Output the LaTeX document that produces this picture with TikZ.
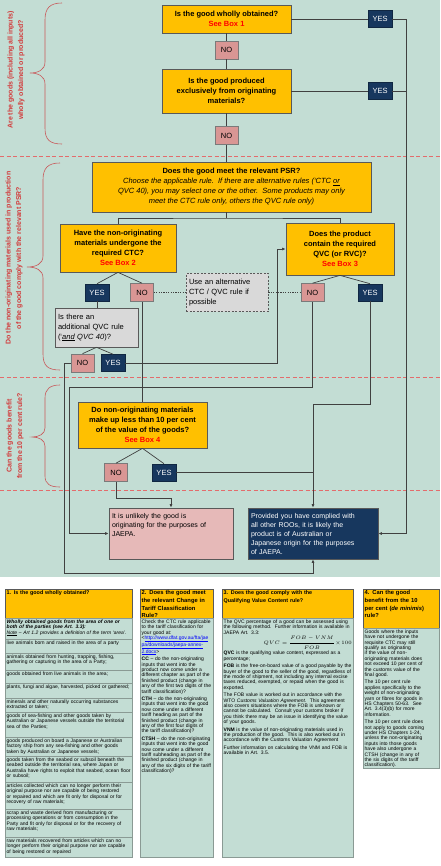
\documentclass[tikz,border=0pt]{standalone}
\usepackage{fontspec}
\setmainfont{Liberation Sans}
\usepackage{amsmath}
\usetikzlibrary{positioning,arrows.meta}
\definecolor{chartbg}{HTML}{C3DDD4}
\definecolor{qorange}{HTML}{FFC000}
\definecolor{navy}{HTML}{17375E}
\definecolor{nopink}{HTML}{D99694}
\definecolor{respink}{HTML}{E6B9B8}
\definecolor{altgrey}{HTML}{D9D9D9}
\definecolor{boxline}{HTML}{595959}
\definecolor{linkgrey}{HTML}{404040}
\definecolor{seered}{HTML}{FF0000}
\definecolor{sidered}{HTML}{D23B3B}
\definecolor{bracered}{HTML}{C9585A}
\definecolor{sepred}{HTML}{E36C6C}
\definecolor{urlblue}{HTML}{0000FF}
\definecolor{cellline}{HTML}{8A9A94}
\hyphenpenalty=10000

\begin{document}
\begin{tikzpicture}[x=1pt, y=-1pt,
	every node/.style={font=\fontsize{7.5}{10}\selectfont},
	qbox/.style={draw=boxline, fill=qorange, line width=0.7pt, align=center, inner sep=1pt, font=\fontsize{7.5}{10}\selectfont\bfseries},
	yesbox/.style={draw=navy!70!black, fill=navy, text=white, line width=0.6pt, minimum width=24pt, minimum height=17pt, inner sep=0pt},
	nobox/.style={draw=boxline!80, fill=nopink, line width=0.6pt, minimum width=23pt, minimum height=18pt, inner sep=0pt},
	greybox/.style={draw=boxline, fill=altgrey, line width=0.6pt, align=left, inner sep=3pt},
	result/.style={draw=boxline, line width=0.7pt, align=left, inner sep=3pt, minimum height=51pt, font=\fontsize{7}{9}\selectfont},
	sidelabel/.style={rotate=90, align=center, text=sidered, inner sep=0pt, font=\fontsize{7}{10.5}\selectfont\bfseries},
	bracel/.style={draw=bracered, line width=0.6pt},
	sepline/.style={draw=sepred, line width=0.8pt, dash pattern=on 4pt off 2.5pt},
	link/.style={draw=linkgrey, line width=0.7pt},
	arr/.style={link, -{Latex[length=3.5pt,width=3pt]}},
	thead/.style={fill=qorange, draw=boxline, line width=0.4pt},
	tcell/.style={fill=chartbg, draw=cellline, line width=0.4pt},
	theadtext/.style={anchor=north west, inner sep=1.5pt, text width=#1, align=left, font=\fontsize{5.8}{7.6}\selectfont\bfseries},
	tcelltext/.style={anchor=north west, inner sep=1.5pt, text width=#1, align=left, font=\fontsize{5}{5.4}\selectfont}
	]
	\useasboundingbox (0,0) rectangle (440,866);
	\fill [chartbg] (0,0) rectangle (440,577);

	\draw [sepline] (0,156) -- (440,156);
	\draw [sepline] (0,377) -- (440,377);
	\draw [sepline] (0,490) -- (440,490);

	\node [sidelabel] (lab1) at (16,70) {Are the goods (including all inputs)\\wholly obtained or produced?};
	\node [sidelabel] (lab2) at (14,258) {Do the non-originating materials used in production\\of the good comply with the relevant PSR?};
	\node [sidelabel] (lab3) at (15,436) {Can the goods benefit\\from the 10 per cent rule?};
	\draw [bracel] (62,3) .. controls (50,3) and (45,8) .. (45,20) -- (45,62) .. controls (45,70) and (38,73) .. (30,73) .. controls (38,73) and (45,76) .. (45,84) -- (45,128) .. controls (45,140) and (50,144) .. (62,144);
	\draw [bracel] (60,163) .. controls (48,163) and (43,168) .. (43,180) -- (43,256) .. controls (43,264) and (36,267) .. (27,267) .. controls (36,267) and (43,270) .. (43,278) -- (43,354) .. controls (43,366) and (48,370) .. (60,370);
	\draw [bracel] (60,385) .. controls (50,385) and (45,389) .. (45,398) -- (45,428) .. controls (45,434) and (39,437) .. (32,437) .. controls (39,437) and (45,440) .. (45,446) -- (45,476) .. controls (45,484) and (50,487) .. (60,487);

	\node [qbox, minimum width=129pt, minimum height=28pt] (wo) at (226.5,19) {Is the good wholly obtained?\\\textcolor{seered}{See Box 1}};
	\node [nobox] (no1) at (226.5,50) {NO};
	\node [qbox, minimum width=129pt, minimum height=44pt] (ex) at (226.5,91) {Is the good produced\\exclusively from originating\\materials?};
	\node [nobox] (no2) at (226.5,135.5) {NO};
	\node [yesbox] (yes1) at (380,19) {YES};
	\node [yesbox] (yes2) at (380,91) {YES};
	\node [qbox, minimum width=279pt, minimum height=50pt] (psr) at (231.5,187) {Does the good meet the relevant PSR?\\{\mdseries\itshape Choose the applicable rule.\ \ If there are alternative rules (‘CTC \underline{or}}\\{\mdseries\itshape QVC 40), you may select one or the other.\ \ Some products may only}\\{\mdseries\itshape meet the CTC rule only, others the QVC rule only)}};
	\node [qbox, minimum width=116pt, minimum height=48pt] (ctc) at (118,248) {Have the non-originating\\materials undergone the\\required CTC?\\\textcolor{seered}{See Box 2}};
	\node [qbox, minimum width=108pt, minimum height=52pt] (qvc) at (340,249) {Does the product\\contain the required\\QVC (or RVC)?\\\textcolor{seered}{See Box 3}};
	\node [yesbox] (ctcyes) at (97,292.5) {YES};
	\node [nobox] (ctcno) at (142,292.5) {NO};
	\node [nobox] (qvcno) at (312.5,292.5) {NO};
	\node [yesbox] (qvcyes) at (370,292.5) {YES};
	\node [greybox, dash pattern=on 2pt off 1.5pt, minimum width=82pt, minimum height=38pt, text width=76pt] (alt) at (227,292.5) {Use an alternative\\CTC / QVC rule if\\possible};
	\node [greybox, minimum width=83pt, minimum height=39pt, text width=77pt] (addq) at (96.5,327.5) {Is there an\\additional QVC rule\\(‘\underline{\itshape and} {\itshape QVC 40})?};
	\node [nobox] (addqno) at (82.5,363) {NO};
	\node [yesbox] (addqyes) at (113,363) {YES};
	\node [qbox, minimum width=129pt, minimum height=46pt] (dm) at (142.5,425) {Do non-originating materials\\make up less than 10 per cent\\of the value of the goods?\\\textcolor{seered}{See Box 4}};
	\node [nobox] (dmno) at (116,472.5) {NO};
	\node [yesbox] (dmyes) at (164,472.5) {YES};
	\node [result, fill=respink, minimum width=124pt, text width=118pt] (notorig) at (171,533.5) {It is unlikely the good is\\originating for the purposes of\\JAEPA.\\\mbox{}\\\mbox{}};
	\node [result, fill=navy, text=white, minimum width=130pt, text width=124pt] (orig) at (313,533.5) {Provided you have complied with\\all other ROOs, it is likely the\\product is of Australian or\\Japanese origin for the purposes\\of JAEPA.};

	\coordinate (rline) at (406,0);
	\coordinate (gup) at (277,0);
	\coordinate (lline) at (64,573);
	\coordinate (mline) at (69,387);
	\coordinate (yline) at (313,404);
	\coordinate (fdrop) at (171,498);
	\coordinate (split) at (226.5,218);

	\draw [link] (wo) -- (no1) -- (ex) -- (no2) -- (no2 |- psr.north);
	\draw [link] (wo) -- (yes1);
	\draw [arr] (yes1.east) -- (yes1.east -| rline) -- (rline |- orig.east) -- (orig.east);
	\draw [link] (ex) -- (yes2);
	\draw [link] (yes2.east) -- (yes2.east -| rline);
	\draw [link] (no2 |- psr.south) -- (split);
	\draw [link] (ctc.north) |- (split) -| (qvc.north);
	\draw [link] (ctc.south) -- (ctcyes.north);
	\draw [link] (ctc.south) -- (ctcno.north);
	\draw [link] (qvc.south) -- (qvcno.north);
	\draw [link] (qvc.south) -- (qvcyes.north);
	\draw [link, dash pattern=on 1.2pt off 1.2pt] (ctcno) -- (alt) -- (qvcno);
	\draw [link] (ctcyes.south) -- (ctcyes.south |- addq.north);
	\draw [link] (addq.south) -- (addqno.north);
	\draw [link] (addq.south) -- (addqyes.north);
	\draw [arr] (addqyes.east) -- (addqyes.east -| gup) -- (gup |- qvc.west) -- (qvc.west);
	\draw [arr] (addqno.west) -| (lline) -| (orig.south);
	\draw [link] (ctcno.south) -- (ctcno.south |- dm.north);
	\draw [arr] (qvcno.south) |- (mline) |- (notorig.west);
	\draw [arr] (qvcyes.south) |- (yline) -- (orig.north);
	\draw [link] (dm.south) -- (dmno.north);
	\draw [link] (dm.south) -- (dmyes.north);
	\draw [link] (dmyes.east) -- (dmyes.east -| orig.north);
	\draw [arr] (dmno.south) |- (fdrop) -- (notorig.north);

	\filldraw [thead] (5,589) rectangle (132,618) node [theadtext=124pt, font=\fontsize{5.4}{7.6}\selectfont\bfseries] (h1) at (5,589) {1. Is the good wholly obtained?};
	\filldraw [tcell] (5,618) rectangle (132,639) node [tcelltext=124pt] (wo1) at (5,618) {{\bfseries\itshape Wholly obtained goods from the area of one or both of the parties (see Art. 3.3):}\\{\itshape \underline{Note} – Art 1.2 provides a definition of the term ‘area’.}};
	\filldraw [tcell] (5,639) rectangle (132,653) node [tcelltext=124pt] (wo2) at (5,639) {live animals born and raised in the area of a party};
	\filldraw [tcell] (5,653) rectangle (132,670) node [tcelltext=124pt] (wo3) at (5,653) {animals obtained from hunting, trapping, fishing, gathering or capturing in the area of a Party;};
	\filldraw [tcell] (5,670) rectangle (132,683) node [tcelltext=124pt] (wo4) at (5,670) {goods obtained from live animals in the area;};
	\filldraw [tcell] (5,683) rectangle (132,698) node [tcelltext=124pt] (wo5) at (5,683) {plants, fungi and algae, harvested, picked or gathered;};
	\filldraw [tcell] (5,698) rectangle (132,712) node [tcelltext=124pt] (wo6) at (5,698) {minerals and other naturally occurring substances extracted or taken;};
	\filldraw [tcell] (5,712) rectangle (132,737) node [tcelltext=124pt] (wo7) at (5,712) {goods of sea-fishing and other goods taken by Australian or Japanese vessels outside the territorial sea of the Parties;};
	\filldraw [tcell] (5,737) rectangle (132,756) node [tcelltext=124pt] (wo8) at (5,737) {goods produced on board a Japanese or Australian factory ship from any sea-fishing and other goods taken by Australian or Japanese vessels;};
	\filldraw [tcell] (5,756) rectangle (132,782) node [tcelltext=124pt] (wo9) at (5,756) {goods taken from the seabed or subsoil beneath the seabed outside the territorial sea, where Japan or Australia have rights to exploit that seabed, ocean floor or subsoil;};
	\filldraw [tcell] (5,782) rectangle (132,809) node [tcelltext=124pt] (wo10) at (5,782) {articles collected which can no longer perform their original purpose nor are capable of being restored or repaired and which are fit only for disposal or for recovery of raw materials;};
	\filldraw [tcell] (5,809) rectangle (132,837) node [tcelltext=124pt] (wo11) at (5,809) {scrap and waste derived from manufacturing or processing operations or from consumption in the Party and fit only for disposal or for the recovery of raw materials;};
	\filldraw [tcell] (5,837) rectangle (132,857) node [tcelltext=124pt] (wo12) at (5,837) {raw materials recovered from articles which can no longer perform their original purpose nor are capable of being restored or repaired};

	\filldraw [thead] (140,589) rectangle (213,618) node [theadtext=70pt] (h2) at (140,589) {2. Does the good meet\\the relevant Change in\\Tariff Classification\\Rule?};
	\filldraw [tcell] (140,618) rectangle (213,857) node [tcelltext=70pt] (ctcbody) at (140,618) {Check the CTC rule applicable to the tariff classification for your good at:\\<\textcolor{urlblue}{\underline{http://www.dfat.gov.au/fta/jae}}\\\textcolor{urlblue}{\underline{pa/downloads/jaepa-annex-}}\\\textcolor{urlblue}{\underline{2.docx}}>\\[2pt]{\bfseries CC} – do the non-originating inputs that went into the product now come under a different chapter as part of the finished product (change in any of the first two digits of the tariff classification)?\\[2pt]{\bfseries CTH} – do the non-originating inputs that went into the good now come under a different tariff heading as part of the finished product (change in any of the first four digits of the tariff classification)?\\[2pt]{\bfseries CTSH} – do the non-originating inputs that went into the good now come under a different tariff subheading as part of the finished product (change in any of the six digits of the tariff classification)?};

	\filldraw [thead] (222,589) rectangle (353,618) node [theadtext=128pt, font=\fontsize{5.4}{7.6}\selectfont\bfseries] (h3) at (222,589) {3. Does the good comply with the\\Qualifying Value Content rule?};
	\filldraw [tcell] (222,618) rectangle (353,857) node [tcelltext=128pt] (qvcbody) at (222,618) {The QVC percentage of a good can be assessed using the following method.\ \ Further information is available in JAEPA Art. 3.3:\\[1pt]\hspace*{40pt}{\fontsize{4.6}{5.6}\selectfont$QVC=\dfrac{FOB-VNM}{FOB}\times 100$}\\[1pt]{\bfseries QVC} is the qualifying value content, expressed as a percentage;\\[2pt]{\bfseries FOB} is the free-on-board value of a good payable by the buyer of the good to the seller of the good, regardless of the mode of shipment, not including any internal excise taxes reduced, exempted, or repaid when the good is exported.\\[2pt]The FOB value is worked out in accordance with the WTO {\itshape Customs Valuation Agreement}.\ \ This agreement also covers situations where the FOB is unknown or cannot be calculated.\ \ Consult your customs broker if you think there may be an issue in identifying the value of your goods.\\[2pt]{\bfseries VNM} is the value of non-originating materials used in the production of the good.\ \ This is also worked out in accordance with the Customs Valuation Agreement\\[2pt]Further information on calculating the VNM and FOB is available in Art. 3.5.};

	\filldraw [thead] (363,589) rectangle (439.5,628) node [theadtext=73.5pt] (h4) at (363,589) {4. Can the good\\benefit from the 10\\per cent ({\itshape de minimis})\\rule?};
	\filldraw [tcell] (363,628) rectangle (439.5,768) node [tcelltext=60pt] (dmbody) at (363,628) {Goods where the inputs have not undergone the requisite CTC may still qualify as originating if the value of non-originating materials does not exceed 10 per cent of the customs value of the final good.\\[2pt]The 10 per cent rule applies specifically to the weight of non-originating yarn or fibres for goods in HS Chapters 50-63.\ \ See Art. 3.4(3)(b) for more information.\\[2pt]The 10 per cent rule does not apply to goods coming under HS Chapters 1-24, unless the non-originating inputs into those goods have also undergone a CTSH (change in any of the six digits of the tariff classification).};
\end{tikzpicture}
\end{document}
